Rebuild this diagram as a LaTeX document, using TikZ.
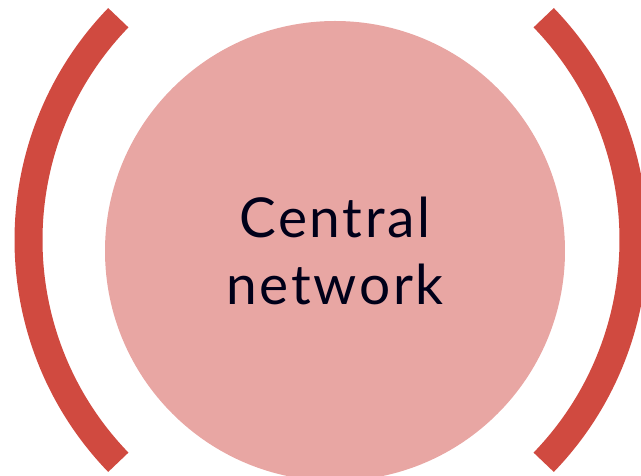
\documentclass[tikz,border=0pt]{standalone}
\usepackage{fontspec}
\setmainfont{Lato}
\newfontfamily\netfont[LetterSpace=5]{Lato}
\usepackage{tikz}
\definecolor{netpink}{HTML}{E8A6A3}
\definecolor{netred}{HTML}{D04A40}
\tikzset{bracketarc/.style={draw=netred, line width=28pt, line cap=butt}}

\begin{document}
\begin{tikzpicture}[x=1pt, y=1pt]
    \useasboundingbox (0,0) rectangle (641,476);
    \clip (0,0) rectangle (641,476);
    %own code
    \node[circle, fill=netpink, minimum size=460pt, inner sep=0pt, align=center,
          font=\netfont\fontsize{55}{67}\selectfont, text=black!90!blue] (central) at (335,225) {Central\\network};

    \draw[bracketarc] ([shift={(136:320)}]348.5,236) arc (136:224:320);
    \draw[bracketarc] ([shift={(-44:320)}]313.5,236) arc (-44:44:320);
\end{tikzpicture}
\end{document}
